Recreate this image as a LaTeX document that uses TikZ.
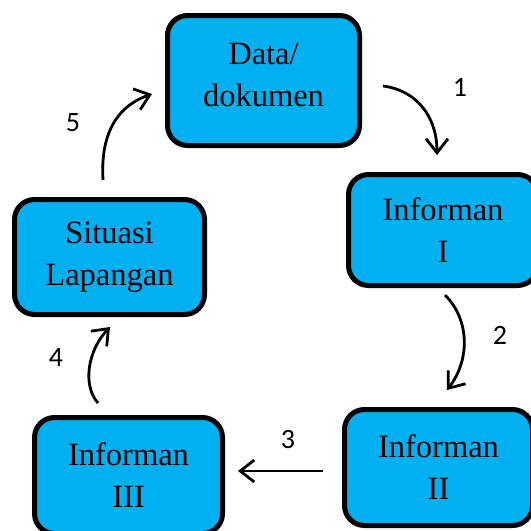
\documentclass[tikz,border=0pt]{standalone}
\usepackage{fontspec}
\setmainfont{Liberation Serif}
\newfontfamily\numfont{Carlito}
\usetikzlibrary{arrows.meta}
\definecolor{boxblue}{RGB}{0,176,240}
\tikzset{
  stagebox/.style={draw=black, line width=5pt, fill=boxblue, rounded corners=20pt,
    align=center, font=\fontsize{32.5}{42}\selectfont, inner sep=0pt},
  stagetext/.style={align=center, font=\fontsize{32.5}{42}\selectfont, inner sep=0pt},
  flow/.style={line width=2.8pt, -{Straight Barb[length=14pt,width=22pt,line width=2.8pt]}},
  steplabel/.style={font=\numfont\fontsize{28}{28}\selectfont, inner sep=0pt}
}
\begin{document}
\begin{tikzpicture}[x=1pt,y=-1pt]
\clip (0,0) rectangle (531,531);
\fill[white] (0,0) rectangle (531,531);

% stages of the cycle
\node[stagebox, minimum width=192pt, minimum height=130pt] (data) at (263.5,80.5) {};
\node[stagetext] (datatext) at (263.5,75) {Data/\\dokumen};
\node[stagebox, minimum width=189pt, minimum height=111pt] (inf1) at (443,230) {Informan\\I};
\node[stagebox, minimum width=188pt, minimum height=116pt] (inf2) at (438.5,467.5) {Informan\\II};
\node[stagebox, minimum width=188pt, minimum height=116pt] (inf3) at (128.5,475.5) {Informan\\III};
\node[stagebox, minimum width=190pt, minimum height=115pt] (situasi) at (109.5,257) {Situasi\\Lapangan};

% arrow end points
\coordinate (a1s) at (383,86);   \coordinate (a1e) at (437,155);
\coordinate (a2s) at (445,295);  \coordinate (a2e) at (447,390);
\coordinate (a3s) at (323,471);  \coordinate (a3e) at (238,471);
\coordinate (a4s) at (98,403);   \coordinate (a4e) at (110,327);
\coordinate (a5s) at (103,180);  \coordinate (a5e) at (152,94);

\draw[flow] (a1s) .. controls (415,90) and (437,115) .. (a1e);
\draw[flow] (a2s) .. controls (470,320) and (470,360) .. (a2e);
\draw[flow] (a3s) -- (a3e);
\draw[flow] (a4s) .. controls (82,385) and (88,350) .. (a4e);
\draw[flow] (a5s) .. controls (100,130) and (120,105) .. (a5e);

% step numbers
\node[steplabel] (n1) at (460,87) {1};
\node[steplabel] (n2) at (500,335) {2};
\node[steplabel] (n3) at (288,440) {3};
\node[steplabel] (n4) at (56,358) {4};
\node[steplabel] (n5) at (73,123) {5};
\end{tikzpicture}
\end{document}
